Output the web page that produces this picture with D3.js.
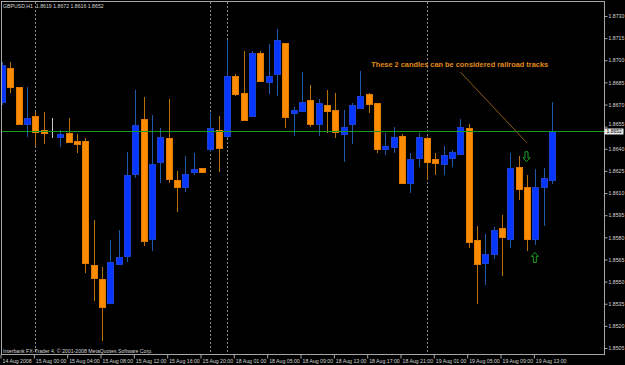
<!DOCTYPE html>
<html>
<head>
<meta charset="utf-8">
<script src="https://cdn.jsdelivr.net/npm/d3@7"></script>
<style>
body { margin: 0; background: #000; overflow: hidden; }
svg { display: block; }
text { font-family: "Liberation Sans", Arial, sans-serif; }
</style>
</head>
<body>
<div id="chart"></div>
<script>
var symbolName = "GBPUSD,H1"
var creditText = "Interbank FX-Trader 4, \u00a9 2001-2008 MetaQuotes Software Corp."

// hourly bars, 14 Aug 20:00 .. 19 Aug 15:00
var openP = [1.8672,1.8695,1.8682,1.8657,1.8662,1.8653,1.8650,1.8648,1.8651,1.8645,
  1.8645,1.8561,1.8552,1.8535,1.8562,1.8567,1.8623,1.8660,1.8579,1.8631,
  1.8647,1.8619,1.8614,1.8624,1.8627,1.8640,1.8653,1.8648,1.8689,1.8678,
  1.8662,1.8705,1.8685,1.8691,1.8712,1.8664,1.8666,1.8673,1.8657,1.8670,
  1.8666,1.8650,1.8657,1.8668,1.8677,1.8671,1.8640,1.8641,1.8649,1.8617,
  1.8634,1.8647,1.8633,1.8630,1.8634,1.8637,1.8654,1.8578,1.8563,1.8569,
  1.8586,1.8579,1.8628,1.8614,1.8579,1.8614,1.8619]
var highP = [1.8699,1.8699,1.8682,1.8682,1.8665,1.8665,1.8661,1.8653,1.8661,1.8650,
  1.8647,1.8592,1.8560,1.8578,1.8585,1.8638,1.8680,1.8675,1.8663,1.8654,
  1.8674,1.8625,1.8635,1.8637,1.8627,1.8664,1.8662,1.8714,1.8691,1.8706,
  1.8706,1.8706,1.8711,1.8721,1.8712,1.8668,1.8692,1.8683,1.8674,1.8680,
  1.8678,1.8666,1.8671,1.8693,1.8678,1.8671,1.8651,1.8655,1.8650,1.8637,
  1.8651,1.8648,1.8637,1.8642,1.8639,1.8660,1.8657,1.8588,1.8582,1.8587,
  1.8595,1.8637,1.8635,1.8622,1.8626,1.8627,1.8672]
var lowP = [1.8670,1.8678,1.8656,1.8648,1.8642,1.8643,1.8647,1.8641,1.8644,1.8637,
  1.8556,1.8537,1.8510,1.8535,1.8562,1.8563,1.8620,1.8574,1.8571,1.8617,
  1.8617,1.8597,1.8611,1.8622,1.8624,1.8638,1.8624,1.8647,1.8676,1.8659,
  1.8662,1.8685,1.8677,1.8676,1.8654,1.8649,1.8666,1.8655,1.8649,1.8651,
  1.8647,1.8631,1.8643,1.8668,1.8664,1.8637,1.8636,1.8637,1.8616,1.8610,
  1.8628,1.8619,1.8622,1.8622,1.8628,1.8637,1.8573,1.8535,1.8548,1.8565,
  1.8554,1.8573,1.8605,1.8571,1.8575,1.8588,1.8616]
var closeP = [1.8697,1.8682,1.8657,1.8661,1.8651,1.8651,1.8650,1.8650,1.8645,1.8643,
  1.8562,1.8552,1.8533,1.8563,1.8567,1.8622,1.8656,1.8577,1.8630,1.8648,
  1.8619,1.8614,1.8623,1.8626,1.8624,1.8654,1.8641,1.8689,1.8677,1.8660,
  1.8705,1.8686,1.8689,1.8714,1.8662,1.8666,1.8672,1.8657,1.8671,1.8666,
  1.8651,1.8655,1.8670,1.8676,1.8670,1.8640,1.8642,1.8648,1.8617,1.8633,
  1.8648,1.8631,1.8630,1.8636,1.8638,1.8655,1.8577,1.8562,1.8569,1.8585,
  1.8580,1.8627,1.8613,1.8579,1.8614,1.8620,1.8652]

var timeLabels = ["14 Aug 2008","15 Aug 00:00","15 Aug 04:00","15 Aug 08:00","15 Aug 12:00",
  "15 Aug 16:00","15 Aug 20:00","18 Aug 01:00","18 Aug 05:00","18 Aug 09:00","18 Aug 13:00",
  "18 Aug 17:00","18 Aug 21:00","19 Aug 01:00","19 Aug 05:00","19 Aug 09:00","19 Aug 13:00"]
var labelBars = timeLabels.map((d, i) => i * 4)
var daySeparators = [4, 25, 27, 51]
var priceTicks = [1.8505,1.8520,1.8535,1.8550,1.8565,1.8580,1.8595,1.8610,
  1.8625,1.8640,1.8655,1.8670,1.8685,1.8700,1.8715,1.8730]

// annotation, in bar index / price
var noteText = "These 2 candles can be considered railroad tracks"
var noteAt = [44.3, 1.8697]
var notePointer = [[55, 1.8692], [63, 1.8644]]
var arrowsDown = [[63, 1.8638]]
var arrowsUp = [[64, 1.8563]]

var width = 625
var height = 365
var frame = {left: 1.5, top: 1.5, right: 604.5, bottom: 354.5}

var bars = openP.map((o, i) => ({i: i, o: o, h: highP[i], l: lowP[i], c: closeP[i]}))

var x = d3.scaleLinear().domain([0, bars.length - 1]).range([2, 552])
var y = d3.scaleLinear().domain([1.8505, 1.8730]).range([348, 16])

var svg = d3.select("#chart")
  .append("svg")
    .attr("width", width)
    .attr("height", height)
    .style("background", "#000")

svg.append("clipPath")
    .attr("id", "plotclip")
  .append("rect")
    .attr("x", frame.left)
    .attr("y", frame.top)
    .attr("width", frame.right - frame.left)
    .attr("height", frame.bottom - frame.top)

// day separators
svg.selectAll(".sep")
  .data(daySeparators)
  .join("line")
    .attr("class", "sep")
    .attr("x1", d => Math.round(x(d)) + 0.5)
    .attr("x2", d => Math.round(x(d)) + 0.5)
    .attr("y1", frame.top)
    .attr("y2", frame.bottom)
    .style("stroke", "#8a8a8a")
    .style("stroke-dasharray", "2,2")
    .style("shape-rendering", "crispEdges")

var plot = svg.append("g").attr("clip-path", "url(#plotclip)")

function colorOf(d) {
  if (d.c > d.o) return "blue"
  if (d.c < d.o) return "orange"
  return "doji"
}
var wickColor = {blue: "#1f5aa8", orange: "#b8700c", doji: "#c8c8c8"}
var bodyFill = {blue: "#0636ff", orange: "#ff8c00", doji: "#c8c8c8"}
var bodyStroke = {blue: "#1c40d0", orange: "#e27c00", doji: "#c8c8c8"}

var left = d => Math.round(x(d.i) - 3)

plot.selectAll(".wick")
  .data(bars)
  .join("line")
    .attr("class", "wick")
    .attr("x1", d => left(d) + 3.5)
    .attr("x2", d => left(d) + 3.5)
    .attr("y1", d => y(d.h))
    .attr("y2", d => y(d.l))
    .style("stroke", d => wickColor[colorOf(d)])
    .style("shape-rendering", "crispEdges")

plot.selectAll(".body")
  .data(bars)
  .join("rect")
    .attr("class", "body")
    .attr("x", d => left(d) + 0.5)
    .attr("y", d => Math.round(y(Math.max(d.o, d.c))) + 0.5)
    .attr("width", 6)
    .attr("height", d => Math.max(0, Math.round(Math.abs(y(d.o) - y(d.c)))))
    .style("fill", d => bodyFill[colorOf(d)])
    .style("stroke", d => bodyStroke[colorOf(d)])
    .style("shape-rendering", "crispEdges")

// current price line
var last = bars[bars.length - 1]
svg.append("line")
    .attr("x1", frame.left)
    .attr("x2", frame.right)
    .attr("y1", Math.round(y(last.c)) + 0.5)
    .attr("y2", Math.round(y(last.c)) + 0.5)
    .style("stroke", "#189a1e")
    .style("shape-rendering", "crispEdges")

// frame
svg.append("rect")
    .attr("x", frame.left)
    .attr("y", frame.top)
    .attr("width", frame.right - frame.left)
    .attr("height", frame.bottom - frame.top)
    .style("fill", "none")
    .style("stroke", "#a6a6a6")
    .style("shape-rendering", "crispEdges")

// price axis
var yAxis = svg.append("g")
    .attr("transform", `translate(${frame.right}, 0)`)
    .call(d3.axisRight(y).tickValues(priceTicks).tickSize(3).tickPadding(1).tickFormat(d3.format(".4f")))
yAxis.select(".domain").remove()
yAxis.selectAll("line").style("stroke", "#a6a6a6")
yAxis.selectAll("text")
    .style("font-size", "5.2px")
    .style("fill", "#d6d6d6")
// the label hidden behind the last price box sits a little higher
yAxis.selectAll(".tick")
  .filter(d => Math.abs(y(d) - y(last.c)) < 6)
  .select("text")
    .attr("dy", "-0.2em")

// last price box
var priceBox = svg.append("g")
    .attr("transform", `translate(${frame.right}, ${Math.round(y(last.c))})`)
priceBox.append("rect")
    .attr("x", 0)
    .attr("y", -2.5)
    .attr("width", 19)
    .attr("height", 6)
    .style("fill", "#ececec")
priceBox.append("text")
    .attr("x", 2)
    .attr("y", 0.5)
    .attr("dy", "0.35em")
    .style("font-size", "5px")
    .style("fill", "#000")
    .text(d3.format(".4f")(last.c))

// time axis
var xAxis = svg.append("g")
    .attr("transform", `translate(-1.5, ${frame.bottom})`)
    .call(d3.axisBottom(x).tickValues(labelBars).tickSize(4).tickFormat((d, i) => timeLabels[i]))
xAxis.select(".domain").remove()
xAxis.selectAll("line").style("stroke", "#a6a6a6")
xAxis.selectAll("text")
    .attr("text-anchor", "start")
    .attr("x", 1.5)
    .attr("y", 5)
    .style("font-size", "5.2px")
    .style("fill", "#d6d6d6")

// header and credit
svg.append("text")
    .attr("x", 3)
    .attr("y", 8)
    .style("font-size", "5.2px")
    .style("fill", "#d6d6d6")
    .attr("xml:space", "preserve")
    .text(symbolName + "  " + [last.o, last.h, last.l, last.c].map(d3.format(".4f")).join(" "))

svg.append("text")
    .attr("x", 3)
    .attr("y", 353)
    .style("font-size", "5.2px")
    .style("fill", "#d6d6d6")
    .text(creditText)

// annotation
svg.append("line")
    .attr("x1", x(notePointer[0][0]))
    .attr("y1", y(notePointer[0][1]))
    .attr("x2", x(notePointer[1][0]))
    .attr("y2", y(notePointer[1][1]))
    .style("stroke", "#8c5a16")

svg.append("text")
    .attr("x", x(noteAt[0]))
    .attr("y", y(noteAt[1]))
    .attr("dy", "0.35em")
    .attr("textLength", 177)
    .attr("lengthAdjust", "spacingAndGlyphs")
    .style("font-size", "7.2px")
    .style("font-weight", "bold")
    .style("fill", "#e08a1c")
    .text(noteText)

var downPath = "M-1.5,0 L1.5,0 L1.5,6 L3.5,6 L0,10 L-3.5,6 L-1.5,6 Z"
var upPath = "M-1.5,0 L1.5,0 L1.5,-6 L3.5,-6 L0,-10 L-3.5,-6 L-1.5,-6 Z"

svg.selectAll(".arrDown")
  .data(arrowsDown)
  .join("path")
    .attr("class", "arrDown")
    .attr("transform", d => `translate(${x(d[0]) - 0.5}, ${y(d[1])})`)
    .attr("d", downPath)
    .style("fill", "none")
    .style("stroke", "#1fa024")

svg.selectAll(".arrUp")
  .data(arrowsUp)
  .join("path")
    .attr("class", "arrUp")
    .attr("transform", d => `translate(${x(d[0]) - 0.5}, ${y(d[1])})`)
    .attr("d", upPath)
    .style("fill", "none")
    .style("stroke", "#1fa024")
</script>
</body>
</html>
